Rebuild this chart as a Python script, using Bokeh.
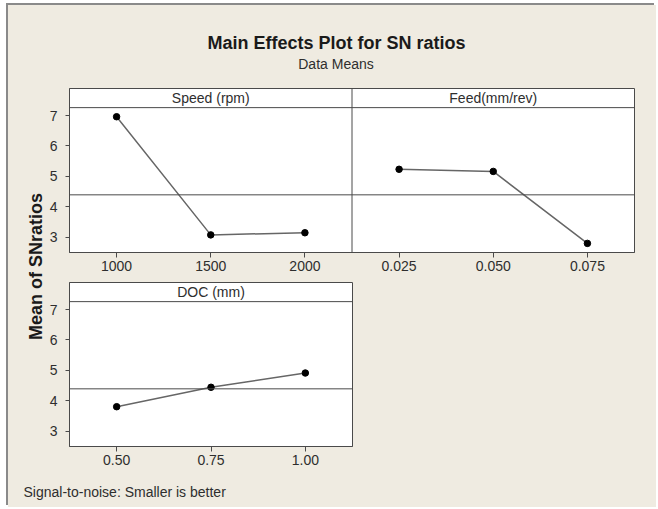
import numpy as np
from bokeh.plotting import figure
from bokeh.models import Range1d, FactorRange, Span, Spacer
from bokeh.layouts import column, row
from bokeh.embed import file_html
from bokeh.resources import INLINE
from bokeh.core.properties import value

# ---------------- data ----------------
title_text = "Main Effects Plot for SN ratios"
subtitle_text = "Data Means"
ylabel_text = "Mean of SNratios"
footer_text = "Signal-to-noise: Smaller is better"

speed_name = "Speed (rpm)"
speed_levels = ["1000", "1500", "2000"]
speed_sn = [6.96, 3.07, 3.14]

feed_name = "Feed(mm/rev)"
feed_levels = ["0.025", "0.050", "0.075"]
feed_sn = [5.23, 5.16, 2.79]

doc_name = "DOC (mm)"
doc_levels = ["0.50", "0.75", "1.00"]
doc_sn = [3.80, 4.44, 4.91]

y_ticks = [3, 4, 5, 6, 7]

grand_mean = float(np.mean(speed_sn + feed_sn + doc_sn))

# ---------------- style ----------------
BG = "#EFEBE1"
FONT = "Liberation Sans"
TXT = "#2e2e2e"
FRAME = "#4a4a4a"
LINE = "#666666"
Y0, Y1 = 2.49, 7.89
STRIP_BOTTOM = 7.26
STRIP_MID = (STRIP_BOTTOM + Y1) / 2


def blank(width, height):
    p = figure(width=width, height=height, x_range=Range1d(0, width), y_range=Range1d(0, height),
               x_axis_location=None, y_axis_location=None, output_backend="svg",
               toolbar_location=None, min_border=0, min_border_left=0, min_border_right=0,
               min_border_top=0, min_border_bottom=0)
    p.outline_line_color = None
    p.background_fill_color = BG
    p.border_fill_color = BG
    p.grid.visible = False
    return p


def panel(factors, width, height, left, right, top, bottom):
    p = figure(width=width, height=height, x_range=FactorRange(factors=factors),
               y_range=Range1d(Y0, Y1), output_backend="svg", toolbar_location=None,
               min_border_left=left, min_border_right=right,
               min_border_top=top, min_border_bottom=bottom)
    p.background_fill_color = "white"
    p.border_fill_color = BG
    p.outline_line_color = FRAME
    p.outline_line_width = 1
    p.grid.visible = False
    p.yaxis.ticker = y_ticks
    for ax in (p.xaxis, p.yaxis):
        ax.axis_line_color = FRAME
        ax.major_tick_line_color = FRAME
        ax.minor_tick_line_color = None
        ax.major_tick_in = 0
        ax.major_label_text_font = FONT
        ax.major_label_text_font_size = "14px"
        ax.major_label_text_color = TXT
    p.xaxis.major_tick_out = 5
    p.xaxis.major_label_standoff = 3
    p.yaxis.major_tick_out = 4
    p.yaxis.major_label_standoff = 8
    p.add_layout(Span(location=STRIP_BOTTOM, dimension="width", line_color=FRAME, line_width=1))
    p.add_layout(Span(location=grand_mean, dimension="width", line_color=FRAME, line_width=1))
    return p


def draw_factor(p, name, levels, vals):
    p.line(x=levels, y=vals, line_color=LINE, line_width=1.5)
    p.scatter(x=levels, y=vals, size=6.5, fill_color="black", line_color="black")
    p.text(x=[levels[len(levels) // 2]], y=[STRIP_MID], text=[name], text_align="center",
           text_baseline="middle", text_font=value(FONT), text_font_size="14px", text_color=TXT)


# ---------------- header ----------------
header = blank(648, 83)
header.text(x=[328], y=[46], text=[title_text], text_align="center", text_baseline="middle",
            text_font=value(FONT), text_font_size="18px", text_font_style="bold", text_color="#1a1a1a")
header.text(x=[327.5], y=[25], text=[subtitle_text], text_align="center", text_baseline="middle",
            text_font=value(FONT), text_font_size="14px", text_color=TXT)

# ---------------- y label ----------------
ylab = blank(36, 387)
ylab.text(x=[27], y=[209], text=[ylabel_text], angle=np.pi / 2, text_align="center",
          text_baseline="middle", text_font=value(FONT), text_font_size="18px",
          text_font_style="bold", text_color="#1a1a1a")

# ---------------- top row: Speed | Feed ----------------
top = panel(speed_levels + feed_levels, 612, 192, 25, 22, 0, 28)
top.add_layout(Span(location=len(speed_levels), dimension="height", line_color=FRAME, line_width=1))
draw_factor(top, speed_name, speed_levels, speed_sn)
draw_factor(top, feed_name, feed_levels, feed_sn)

# ---------------- bottom row: DOC ----------------
bot = panel(doc_levels, 330, 195, 25, 22, 2, 29)
draw_factor(bot, doc_name, doc_levels, doc_sn)
bot_fill = Spacer(width=282, height=195, styles={"background-color": BG})

# ---------------- footer ----------------
footer = blank(648, 32)
footer.text(x=[15], y=[16], text=[footer_text], text_align="left", text_baseline="middle",
            text_font=value(FONT), text_font_size="14px", text_color=TXT)

layout = column(header, row(ylab, column(top, row(bot, bot_fill))), footer,
                margin=(5, 0, 0, 8),
                styles={"box-shadow": "-2px -2px 0 0 #8a8a8a", "background-color": BG})

open("out.html", "w").write(file_html(layout, INLINE))
